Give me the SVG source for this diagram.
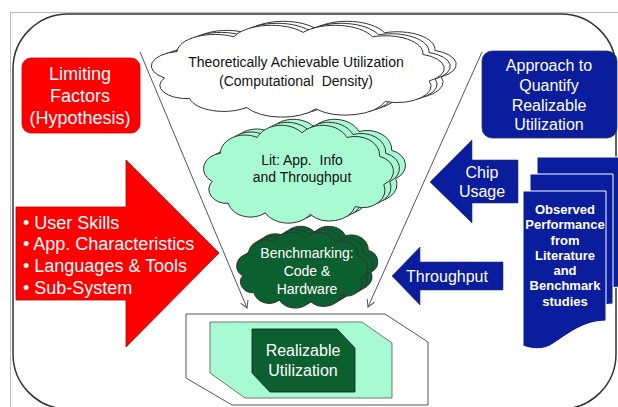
<svg xmlns="http://www.w3.org/2000/svg" xmlns:xlink="http://www.w3.org/1999/xlink" width="618" height="407" viewBox="0 0 618 407">
<defs>
<style>
text{font-family:"Liberation Sans",Arial,sans-serif;text-anchor:middle}
.w{fill:#ffffff}
.k{fill:#111111}
.cl{stroke:#333333;stroke-width:1}
.conn{stroke:#555555;stroke-width:1;fill:none;marker-end:url(#ah)}
.blue{fill:#0A1D9C}
.red{fill:#FF0000}
.lg{fill:#A8FAD2}
.dg{fill:#0C5F2F}
</style>
<path id="cloud" vector-effect="non-scaling-stroke" d="M8,36 A10,10 0 0 1 12,18 A12,12 0 0 1 30,8 A13,13 0 0 1 52,5 A13,13 0 0 1 74,8 A12,12 0 0 1 90,20 A10,10 0 0 1 92,38 A11,11 0 0 1 78,52 A13,13 0 0 1 56,57 A13,13 0 0 1 34,56 A11,11 0 0 1 16,50 A9,9 0 0 1 8,36 Z"/>
<path id="doc" d="M0,0 H83 V130 C60,130 44,144 30,153 C20,160 8,158 0,155 Z"/>
<marker id="ah" markerWidth="10" markerHeight="10" refX="0" refY="0" viewBox="-9 -5 10 10" orient="auto" markerUnits="userSpaceOnUse">
<path d="M-7,-4 L0,0 L-7,4" fill="none" stroke="#555555" stroke-width="1"/>
</marker>
</defs>
<rect x="0" y="0" width="618" height="407" fill="#ffffff"/>
<rect x="10.5" y="12.5" width="620" height="400" fill="none" stroke="#bbbbbb" stroke-width="1"/>
<rect id="frame" x="13" y="14" width="603" height="395" rx="55" ry="55" fill="#ffffff" stroke="#333333" stroke-width="1.5"/>

<g id="connectors">
<line class="conn" x1="140" y1="52" x2="247" y2="308"/>
<line class="conn" x1="482" y1="52" x2="368" y2="307"/>
</g>

<g id="limiting-factors">
<rect class="red" x="22" y="58" width="118" height="75" rx="9" ry="9" stroke="#cc0000" stroke-width="0.8"/>
<text class="w" font-size="18" x="80" y="80">Limiting</text>
<text class="w" font-size="18" x="80" y="102">Factors</text>
<text class="w" font-size="18" x="80" y="124">(Hypothesis)</text>
</g>

<g id="approach">
<rect class="blue" x="482" y="51" width="135" height="87" rx="10" ry="10" stroke="#333366" stroke-width="0.8"/>
<text class="w" font-size="16" x="549" y="71">Approach to</text>
<text class="w" font-size="16" x="549" y="91">Quantify</text>
<text class="w" font-size="16" x="549" y="111">Realizable</text>
<text class="w" font-size="16" x="549" y="130">Utilization</text>
</g>

<g id="theoretical">
<use href="#cloud" xlink:href="#cloud" class="cl" fill="#ffffff" transform="translate(151.4,21) scale(3.15,1.472)"/>
<use href="#cloud" xlink:href="#cloud" class="cl" fill="#ffffff" transform="translate(145.4,23) scale(3.15,1.472)"/>
<use href="#cloud" xlink:href="#cloud" class="cl" fill="#ffffff" transform="translate(139.4,25) scale(3.15,1.472)"/>
<text class="k" font-size="14" x="296" y="67">Theoretically Achievable Utilization</text>
<text class="k" font-size="14" x="296" y="86" xml:space="preserve">(Computational  Density)</text>
</g>

<g id="lit">
<use href="#cloud" xlink:href="#cloud" class="cl lg" transform="translate(207.8,119) scale(2.043,1.568)"/>
<use href="#cloud" xlink:href="#cloud" class="cl lg" transform="translate(201.8,122) scale(2.043,1.568)"/>
<use href="#cloud" xlink:href="#cloud" class="cl lg" transform="translate(195.8,125) scale(2.043,1.568)"/>
<text class="k" font-size="14" x="302" y="165" xml:space="preserve">Lit: App.  Info</text>
<text class="k" font-size="14" x="302" y="182">and Throughput</text>
</g>

<g id="benchmarking">
<use href="#cloud" xlink:href="#cloud" class="cl dg" stroke="#1a1a1a" transform="translate(241.4,226) scale(1.409,1.216)"/>
<use href="#cloud" xlink:href="#cloud" class="cl dg" stroke="#1a1a1a" transform="translate(236.4,229) scale(1.409,1.216)"/>
<use href="#cloud" xlink:href="#cloud" class="cl dg" stroke="#1a1a1a" transform="translate(231.4,232) scale(1.409,1.216)"/>
<text class="w" font-size="14" x="307" y="258">Benchmarking:</text>
<text class="w" font-size="14" x="307" y="276">Code &amp;</text>
<text class="w" font-size="14" x="307" y="294">Hardware</text>
</g>

<g id="realizable">
<path d="M186,314 H385 L428,342 V405 H232 L186,378 Z" fill="#ffffff" stroke="#555555" stroke-width="1"/>
<path class="lg" d="M210,322 H362 L392,343 V398 H245 L210,373 Z" stroke="#555555" stroke-width="0.8"/>
<path class="dg" d="M252,329 H337 L355,348 V392 H270 L252,373 Z" stroke="#1a1a1a" stroke-width="0.8"/>
<text class="w" font-size="16" x="303" y="356">Realizable</text>
<text class="w" font-size="16" x="303" y="376">Utilization</text>
</g>

<g id="limiting-list">
<path class="red" d="M16,207 H126 V160 L219,253 L126,347 V300 H16 Z" stroke="#bb0000" stroke-width="0.8"/>
<text class="w" font-size="18" x="23" y="228.5" text-anchor="start" style="text-anchor:start">• User Skills</text>
<text class="w" font-size="18" x="23" y="250" style="text-anchor:start">• App. Characteristics</text>
<text class="w" font-size="18" x="23" y="271.5" style="text-anchor:start">• Languages &amp; Tools</text>
<text class="w" font-size="18" x="23" y="293.5" style="text-anchor:start">• Sub-System</text>
</g>

<g id="chip-usage">
<path class="blue" d="M518,160 H472 V140 L430,182 L472,223 V203 H518 Z" stroke="#333366" stroke-width="0.6"/>
<text class="w" font-size="16" x="482" y="178">Chip</text>
<text class="w" font-size="16" x="482" y="197">Usage</text>
</g>

<g id="throughput">
<path class="blue" d="M503,262 H420 V247 L392,276 L420,305 V290 H503 Z" stroke="#333366" stroke-width="0.6"/>
<text class="w" font-size="16" x="447" y="282">Throughput</text>
</g>

<g id="observed">
<use href="#doc" xlink:href="#doc" class="blue" stroke="#ffffff" stroke-width="1" transform="translate(537,157)"/>
<use href="#doc" xlink:href="#doc" class="blue" stroke="#ffffff" stroke-width="1" transform="translate(530,174)"/>
<use href="#doc" xlink:href="#doc" class="blue" stroke="#ffffff" stroke-width="1" transform="translate(523,191)"/>
<text class="w" font-size="13" font-weight="bold" x="565" y="213.5">Observed</text>
<text class="w" font-size="13" font-weight="bold" x="565" y="229">Performance</text>
<text class="w" font-size="13" font-weight="bold" x="565" y="244.5">from</text>
<text class="w" font-size="13" font-weight="bold" x="565" y="259.5">Literature</text>
<text class="w" font-size="13" font-weight="bold" x="565" y="274.5">and</text>
<text class="w" font-size="13" font-weight="bold" x="565" y="290">Benchmark</text>
<text class="w" font-size="13" font-weight="bold" x="565" y="305.5">studies</text>
</g>
</svg>
